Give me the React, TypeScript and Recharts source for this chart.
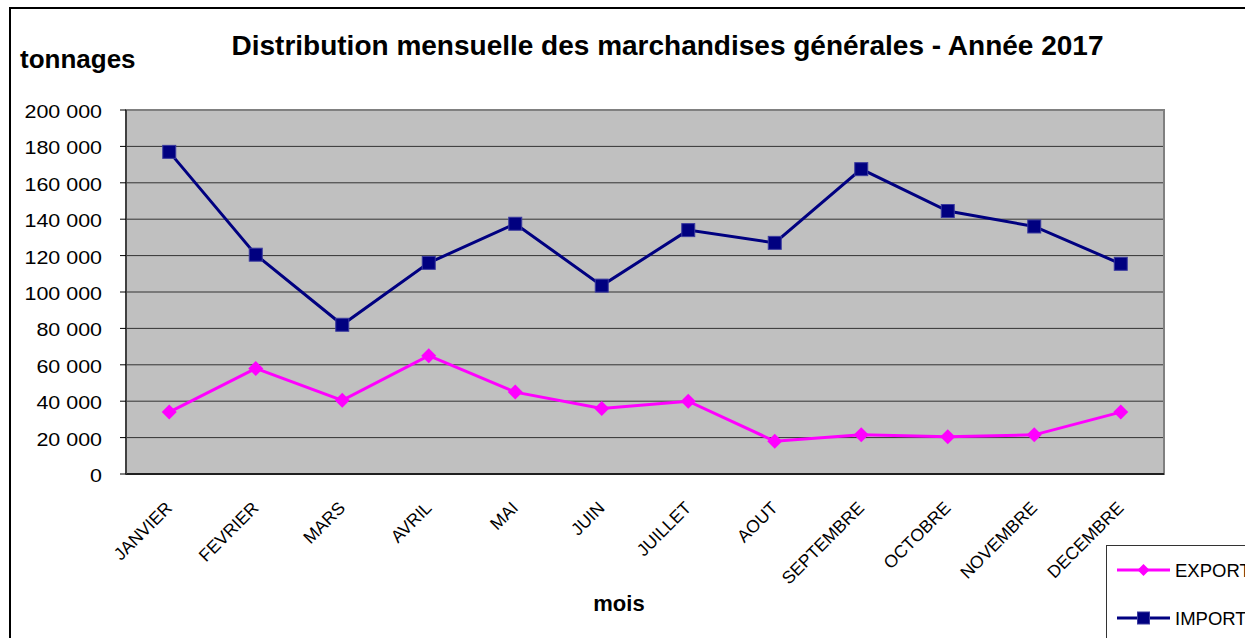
import React from 'react';
import {
  LineChart,
  Line,
  XAxis,
  YAxis,
  CartesianGrid,
  ReferenceArea,
  Legend,
} from 'recharts';

const categories = [
  'JANVIER', 'FEVRIER', 'MARS', 'AVRIL', 'MAI', 'JUIN',
  'JUILLET', 'AOUT', 'SEPTEMBRE', 'OCTOBRE', 'NOVEMBRE', 'DECEMBRE',
];
const exportValues = [34000, 58000, 40500, 65000, 45000, 36000, 40000, 18000, 21500, 20500, 21500, 34000];
const importValues = [177000, 120500, 82000, 116000, 137500, 103500, 134000, 127000, 167500, 144500, 136000, 115500];
const yTicks = [0, 20000, 40000, 60000, 80000, 100000, 120000, 140000, 160000, 180000, 200000];
const boundaryTicks = [0, 1, 2, 3, 4, 5, 6, 7, 8, 9, 10, 11, 12];
const labelTicks = categories.map((_, i) => i + 0.5);

const data = categories.map((m, i) => ({
  x: i + 0.5,
  month: m,
  EXPORT: exportValues[i],
  IMPORT: importValues[i],
}));

const FONT = '"Liberation Sans", Arial, sans-serif';
const IMPORT_COLOR = '#000080';
const EXPORT_COLOR = '#FF00FF';

const formatY = (v: number) => {
  if (v === 0) return '0';
  const s = String(v);
  return s.slice(0, s.length - 3) + ' ' + s.slice(s.length - 3);
};

const YTick = (props: any) => {
  const { x, y, payload } = props;
  return (
    <g transform={`translate(${x},${y}) scale(1.16,1)`}>
      <text x={0} y={0} dy={8} textAnchor="end" fontSize={18.5} fontFamily={FONT} fill="#000">
        {formatY(payload.value)}
      </text>
    </g>
  );
};

const XLabelTick = (props: any) => {
  const { x, y, payload } = props;
  const idx = Math.round(payload.value - 0.5);
  return (
    <g transform={`translate(${x + 4},${y + 29})`}>
      <text x={0} y={0} textAnchor="end" transform="rotate(-45)" fontSize={17.5} fontFamily={FONT} fill="#000">
        {categories[idx]}
      </text>
    </g>
  );
};

const SquareDot = (props: any) => {
  const { cx, cy } = props;
  if (cx == null || cy == null) return null;
  return (
    <rect x={cx - 6.5} y={cy - 6.5} width={13} height={13} fill={IMPORT_COLOR} stroke="#3a3a9e" strokeWidth={1} />
  );
};

const DiamondDot = (props: any) => {
  const { cx, cy } = props;
  if (cx == null || cy == null) return null;
  const r = 7.5;
  return (
    <polygon points={`${cx},${cy - r} ${cx + r},${cy} ${cx},${cy + r} ${cx - r},${cy}`} fill={EXPORT_COLOR} />
  );
};

const LegendBox = () => (
  <div
    style={{
      width: 160,
      height: 110,
      boxSizing: 'border-box',
      border: '1px solid #333',
      background: '#fff',
    }}
  >
    <svg width={160} height={110} style={{ display: 'block' }}>
      <line x1={10} y1={24} x2={63} y2={24} stroke={EXPORT_COLOR} strokeWidth={3} />
      <polygon points="36.5,18 42.5,24 36.5,30 30.5,24" fill={EXPORT_COLOR} />
      <text x={68} y={30.6} fontSize={18.5} fontFamily={FONT} fill="#000">EXPORT</text>
      <line x1={10} y1={72} x2={63} y2={72} stroke={IMPORT_COLOR} strokeWidth={3} />
      <rect x={30.5} y={66} width={12} height={12} fill={IMPORT_COLOR} stroke="#3a3a9e" strokeWidth={1} />
      <text x={68} y={78.6} fontSize={18.5} fontFamily={FONT} fill="#000">IMPORT</text>
    </svg>
  </div>
);

export default function App() {
  return (
    <div
      style={{
        position: 'fixed',
        left: 0,
        top: 0,
        width: 1245,
        height: 638,
        overflow: 'hidden',
        background: '#fff',
      }}
    >
      <div
        style={{
          position: 'absolute',
          left: 9,
          top: 7,
          width: 1400,
          height: 800,
          borderLeft: '2px solid #000',
          borderTop: '2px solid #000',
        }}
      />
      <div style={{ position: 'absolute', left: 0, top: 0 }}>
        <LineChart
          width={1245}
          height={638}
          data={data}
          margin={{ top: 110, right: 81, left: 0, bottom: 58 }}
        >
          <CartesianGrid
            vertical={false}
            horizontal={true}
            fill="#C0C0C0"
            stroke="#333"
            strokeWidth={1}
          />
          <ReferenceArea y1={0} y2={200000} fill="none" stroke="#808080" strokeWidth={2} ifOverflow="visible" />
          <XAxis
            dataKey="x"
            type="number"
            domain={[0, 12]}
            ticks={boundaryTicks}
            interval={0}
            tick={false}
            height={6}
            tickSize={6}
            axisLine={{ stroke: '#000', strokeWidth: 1.5 }}
            tickLine={{ stroke: '#000', strokeWidth: 1 }}
          />
          <XAxis
            xAxisId="labels"
            dataKey="x"
            type="number"
            domain={[0, 12]}
            ticks={labelTicks}
            interval={0}
            height={100}
            tickSize={0}
            tickMargin={0}
            axisLine={false}
            tickLine={false}
            tick={<XLabelTick />}
          />
          <YAxis
            type="number"
            domain={[0, 200000]}
            ticks={yTicks}
            interval={0}
            width={126}
            tickSize={6}
            tickMargin={18}
            axisLine={{ stroke: '#404040', strokeWidth: 2 }}
            tickLine={{ stroke: '#000', strokeWidth: 1 }}
            tick={<YTick />}
          />
          <Line
            type="linear"
            dataKey="IMPORT"
            stroke={IMPORT_COLOR}
            strokeWidth={3}
            dot={<SquareDot />}
            activeDot={false}
            isAnimationActive={false}
          />
          <Line
            type="linear"
            dataKey="EXPORT"
            stroke={EXPORT_COLOR}
            strokeWidth={3}
            dot={<DiamondDot />}
            activeDot={false}
            isAnimationActive={false}
          />
          <Legend
            layout="horizontal"
            verticalAlign="middle"
            align="center"
            wrapperStyle={{ position: 'absolute', left: 1106, top: 545, width: 160, height: 110 }}
            content={() => <LegendBox />}
          />
        </LineChart>
      </div>
      <svg
        width={1245}
        height={638}
        style={{ position: 'absolute', left: 0, top: 0, pointerEvents: 'none' }}
      >
        <text x={667.5} y={55} textAnchor="middle" fontSize={28} fontWeight="bold" fontFamily={FONT} fill="#000">
          Distribution mensuelle des marchandises générales - Année 2017
        </text>
        <text x={20} y={68} fontSize={26} fontWeight="bold" fontFamily={FONT} fill="#000">
          tonnages
        </text>
        <text x={619} y={611} textAnchor="middle" fontSize={22} fontWeight="bold" fontFamily={FONT} fill="#000">
          mois
        </text>
      </svg>
    </div>
  );
}
